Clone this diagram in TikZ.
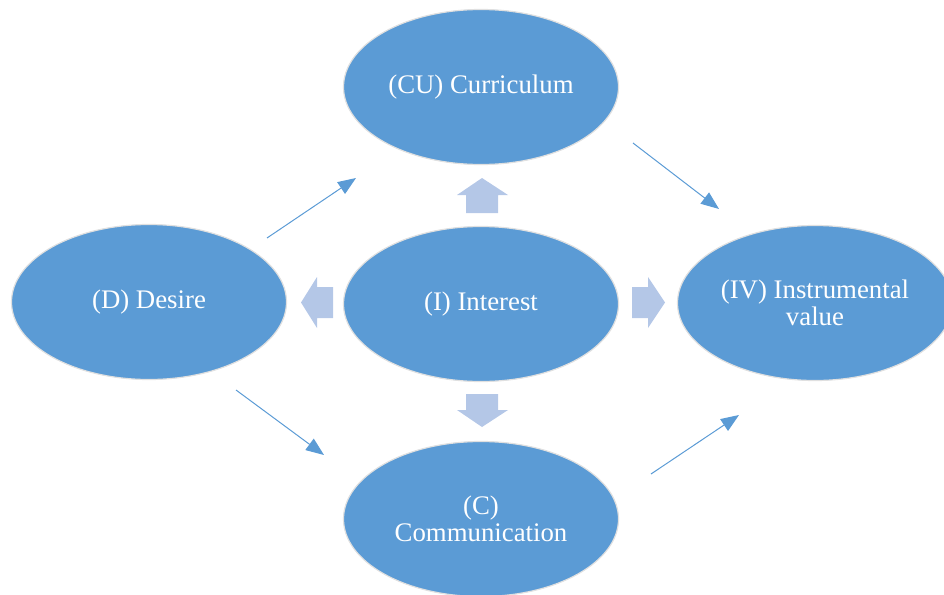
\documentclass[tikz,border=0pt]{standalone}
\usepackage{fontspec}
\setmainfont{Liberation Serif}
\usetikzlibrary{arrows.meta,shapes.geometric}
\definecolor{ellblue}{HTML}{5B9BD5}
\definecolor{blockblue}{HTML}{B4C7E7}
\begin{document}
\begin{tikzpicture}[x=1pt,y=-1pt,
  bubble/.style={ellipse,fill=ellblue,draw=white!88!black,line width=1.2pt,
    minimum width=275pt,minimum height=155pt,inner sep=0pt,
    text=white,align=center,font=\fontsize{26.8}{27.5}\selectfont},
  link/.style={draw=ellblue,line width=1pt,-{Triangle[length=18pt,width=14pt]}},
  blockarrow/.style={fill=blockblue,draw=none}]
\useasboundingbox (0,0) rectangle (944,594);
\clip (0,0) rectangle (944,594);
\node[bubble] (cu) at (481,87) {(CU) Curriculum};
\node[bubble] (i) at (481,304) {(I) Interest};
\node[bubble] (d) at (149,302) {(D) Desire};
\node[bubble] (iv) at (815,303) {(IV) Instrumental\\value};
\node[bubble] (c) at (481,519) {(C)\\Communication};
% block arrows
\fill[blockarrow] (466,213) -- (466,195) -- (457,195) -- (482,178) -- (508,195) -- (498,195) -- (498,213) -- cycle;
\fill[blockarrow] (466,394) -- (466,410) -- (457,410) -- (482,427) -- (508,410) -- (498,410) -- (498,394) -- cycle;
\fill[blockarrow] (333,287) -- (317,287) -- (317,277) -- (301,302.5) -- (317,328) -- (317,318) -- (333,318) -- cycle;
\fill[blockarrow] (632,287) -- (648,287) -- (648,277) -- (665,302.5) -- (648,328) -- (648,318) -- (632,318) -- cycle;
% thin arrows
\coordinate (a1s) at (267,238); \coordinate (a1e) at (356,178);
\coordinate (a2s) at (633,143); \coordinate (a2e) at (719,209);
\coordinate (a3s) at (236,390); \coordinate (a3e) at (324,455);
\coordinate (a4s) at (651,474); \coordinate (a4e) at (739,415);
\draw[link] (a1s) -- (a1e);
\draw[link] (a2s) -- (a2e);
\draw[link] (a3s) -- (a3e);
\draw[link] (a4s) -- (a4e);
\end{tikzpicture}
\end{document}
